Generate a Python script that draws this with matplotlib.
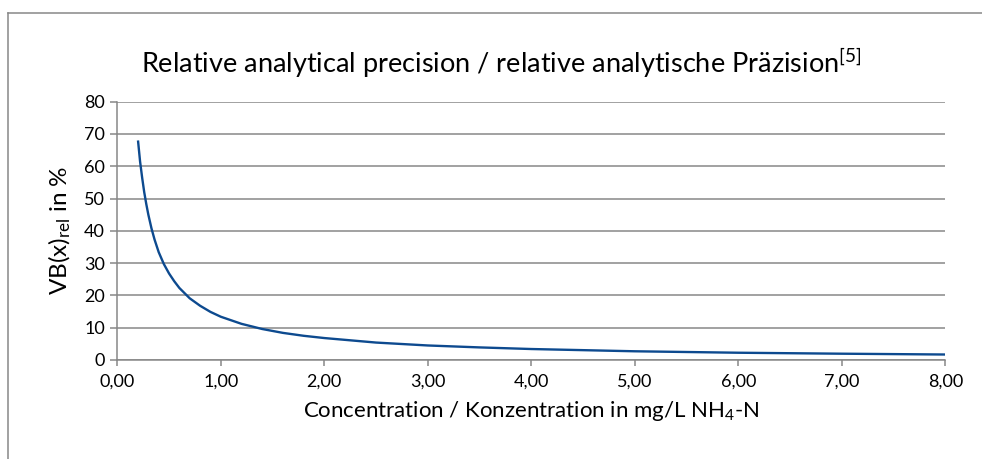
import matplotlib
matplotlib.use('Agg')
import matplotlib.pyplot as plt
from matplotlib.ticker import FuncFormatter, MultipleLocator
from matplotlib.lines import Line2D

plt.rcParams['font.family'] = ['Lato', 'DejaVu Sans']
plt.rcParams['mathtext.fontset'] = 'custom'
plt.rcParams['mathtext.rm'] = 'Lato'

# concentration in mg/L NH4-N and relative precision in %
conc = [0.2, 0.22, 0.24, 0.26, 0.28, 0.3, 0.33, 0.36, 0.4, 0.45, 0.5, 0.55, 0.6,
        0.7, 0.8, 0.9, 1.0, 1.2, 1.4, 1.6, 1.8, 2.0, 2.5, 3.0, 3.5, 4.0,
        5.0, 6.0, 7.0, 8.0]
vb_rel = [68.0, 61.5, 56.5, 52.0, 48.3, 45.0, 40.8, 37.3, 33.4, 29.7, 26.8, 24.4, 22.3,
          19.1, 16.8, 14.9, 13.4, 11.2, 9.6, 8.4, 7.5, 6.8, 5.4, 4.5, 3.9, 3.4,
          2.7, 2.25, 1.95, 1.7]

title = 'Relative analytical precision / relative analytische Präzision$\\mathregular{^{[5]}}$'
xlabel = 'Concentration / Konzentration in mg/L NH$\\mathregular{_4}$-N'
ylabel = 'VB(x)$\\mathregular{_{rel}}$ in %'

grey = '#878787'
W, H = 982, 459

fig = plt.figure(figsize=(W / 100, H / 100), dpi=100)
ax = fig.add_axes([117.3 / W, 1 - 360 / H, (945.3 - 117.3) / W, (360 - 101.7) / H])

ax.plot(conc, vb_rel, color='#0d4a8f', lw=1.7, solid_capstyle='butt', solid_joinstyle='round')

ax.set_xlim(0, 8)
ax.set_ylim(0, 80)
ax.xaxis.set_major_locator(MultipleLocator(1))
ax.yaxis.set_major_locator(MultipleLocator(10))
ax.xaxis.set_major_formatter(FuncFormatter(lambda v, p: f'{v:.2f}'.replace('.', ',')))
ax.yaxis.set_major_formatter(FuncFormatter(lambda v, p: f'{v:.0f}'))

ax.grid(axis='y', color=grey, lw=1.1)
ax.set_axisbelow(True)
for s in ['top', 'right']:
    ax.spines[s].set_visible(False)
for s in ['left', 'bottom']:
    ax.spines[s].set_color(grey)
    ax.spines[s].set_linewidth(1.1)
ax.tick_params(axis='both', colors=grey, labelcolor='black', labelsize=13, width=1.1)
ax.tick_params(axis='y', length=5, pad=4)
ax.tick_params(axis='x', length=4.5, pad=5)

fig.text(501 / W, 1 - 63 / H, title, ha='center', va='center', fontsize=19.5)
ax.set_xlabel(xlabel, fontsize=16, labelpad=7)
ax.set_ylabel(ylabel, fontsize=17.5, labelpad=8)

# outer chart frame (only left and top edges are inside the crop)
fig.add_artist(Line2D([7.5 / W, 7.5 / W], [0, 1 - 12.7 / H], transform=fig.transFigure, color=grey, lw=1.1))
fig.add_artist(Line2D([7.5 / W, 1], [1 - 12.7 / H, 1 - 12.7 / H], transform=fig.transFigure, color=grey, lw=1.1))

fig.savefig('out.png', dpi=100)
